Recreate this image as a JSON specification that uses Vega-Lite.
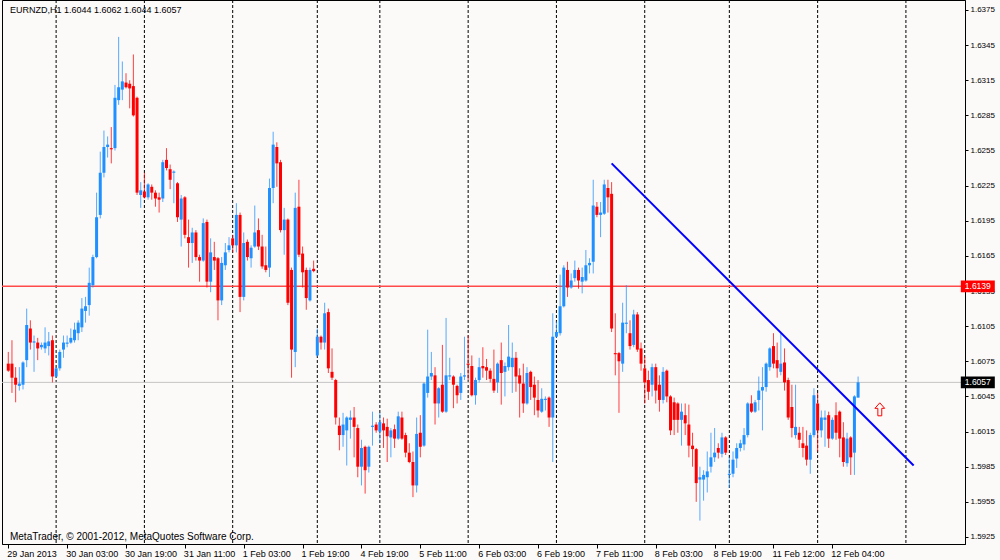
{
"$schema": "https://vega.github.io/schema/vega-lite/v6.json",
"width": 963, "height": 544,
"autosize": {"type": "none"},
"padding": {"left": 2, "top": 0, "right": 35, "bottom": 16},
"background": "#fcf9f9",
"config": {"view": {"stroke": "#000000", "strokeWidth": 1}, "axis": {"grid": false, "title": null, "labelOverlap": false, "labelBound": false, "labelFlush": false}},
"datasets": {
"candles": [
{"i":0,"o":1.6073,"h":1.6083,"l":1.6066,"c":1.6067},
{"i":1,"o":1.6073,"h":1.6093,"l":1.6048,"c":1.6061},
{"i":2,"o":1.6061,"h":1.6070,"l":1.6040,"c":1.6055},
{"i":3,"o":1.6054,"h":1.6070,"l":1.6050,"c":1.6056},
{"i":4,"o":1.6055,"h":1.6075,"l":1.6051,"c":1.6074},
{"i":5,"o":1.6076,"h":1.6120,"l":1.6070,"c":1.6106},
{"i":6,"o":1.6103,"h":1.6110,"l":1.6085,"c":1.6091},
{"i":7,"o":1.6091,"h":1.6097,"l":1.6066,"c":1.6092},
{"i":8,"o":1.6091,"h":1.6095,"l":1.6076,"c":1.6086},
{"i":9,"o":1.6087,"h":1.6091,"l":1.6085,"c":1.6089},
{"i":10,"o":1.6086,"h":1.6104,"l":1.6082,"c":1.6091},
{"i":11,"o":1.6088,"h":1.6100,"l":1.6080,"c":1.6092},
{"i":12,"o":1.6093,"h":1.6097,"l":1.6057,"c":1.6062},
{"i":13,"o":1.6062,"h":1.6070,"l":1.6061,"c":1.6069},
{"i":14,"o":1.6069,"h":1.6085,"l":1.6067,"c":1.6083},
{"i":15,"o":1.6085,"h":1.6097,"l":1.6078,"c":1.6091},
{"i":16,"o":1.6090,"h":1.6097,"l":1.6087,"c":1.6091},
{"i":17,"o":1.6091,"h":1.6103,"l":1.6090,"c":1.6095},
{"i":18,"o":1.6093,"h":1.6108,"l":1.6091,"c":1.6102},
{"i":19,"o":1.6099,"h":1.6110,"l":1.6093,"c":1.6108},
{"i":20,"o":1.6104,"h":1.6129,"l":1.6100,"c":1.6120},
{"i":21,"o":1.6118,"h":1.6130,"l":1.6108,"c":1.6122},
{"i":22,"o":1.6123,"h":1.6155,"l":1.6114,"c":1.6142},
{"i":23,"o":1.6140,"h":1.6166,"l":1.6138,"c":1.6164},
{"i":24,"o":1.6164,"h":1.6219,"l":1.6163,"c":1.6198},
{"i":25,"o":1.6200,"h":1.6254,"l":1.6197,"c":1.6236},
{"i":26,"o":1.6236,"h":1.6272,"l":1.6232,"c":1.6258},
{"i":27,"o":1.6258,"h":1.6267,"l":1.6249,"c":1.6260},
{"i":28,"o":1.6257,"h":1.6275,"l":1.6244,"c":1.6256},
{"i":29,"o":1.6257,"h":1.6311,"l":1.6255,"c":1.6300},
{"i":30,"o":1.6298,"h":1.6352,"l":1.6294,"c":1.6309},
{"i":31,"o":1.6307,"h":1.6331,"l":1.6298,"c":1.6314},
{"i":32,"o":1.6313,"h":1.6321,"l":1.6308,"c":1.6309},
{"i":33,"o":1.6312,"h":1.6315,"l":1.6291,"c":1.6308},
{"i":34,"o":1.6310,"h":1.6337,"l":1.6284,"c":1.6285},
{"i":35,"o":1.6300,"h":1.6301,"l":1.6217,"c":1.6219},
{"i":36,"o":1.6217,"h":1.6228,"l":1.6206,"c":1.6221},
{"i":37,"o":1.6220,"h":1.6236,"l":1.6214,"c":1.6215},
{"i":38,"o":1.6215,"h":1.6227,"l":1.6213,"c":1.6226},
{"i":39,"o":1.6224,"h":1.6226,"l":1.6213,"c":1.6219},
{"i":40,"o":1.6219,"h":1.6221,"l":1.6207,"c":1.6214},
{"i":41,"o":1.6215,"h":1.6219,"l":1.6202,"c":1.6213},
{"i":42,"o":1.6214,"h":1.6247,"l":1.6211,"c":1.6245},
{"i":43,"o":1.6247,"h":1.6257,"l":1.6238,"c":1.6240},
{"i":44,"o":1.6239,"h":1.6243,"l":1.6222,"c":1.6230},
{"i":45,"o":1.6236,"h":1.6238,"l":1.6210,"c":1.6237},
{"i":46,"o":1.6227,"h":1.6228,"l":1.6194,"c":1.6198},
{"i":47,"o":1.6196,"h":1.6217,"l":1.6173,"c":1.6214},
{"i":48,"o":1.6215,"h":1.6216,"l":1.6180,"c":1.6183},
{"i":49,"o":1.6181,"h":1.6196,"l":1.6155,"c":1.6176},
{"i":50,"o":1.6176,"h":1.6189,"l":1.6159,"c":1.6185},
{"i":51,"o":1.6185,"h":1.6187,"l":1.6161,"c":1.6164},
{"i":52,"o":1.6164,"h":1.6166,"l":1.6143,"c":1.6161},
{"i":53,"o":1.6161,"h":1.6197,"l":1.6160,"c":1.6193},
{"i":54,"o":1.6194,"h":1.6196,"l":1.6138,"c":1.6143},
{"i":55,"o":1.6143,"h":1.6180,"l":1.6134,"c":1.6168},
{"i":56,"o":1.6164,"h":1.6177,"l":1.6153,"c":1.6161},
{"i":57,"o":1.6163,"h":1.6164,"l":1.6110,"c":1.6127},
{"i":58,"o":1.6127,"h":1.6164,"l":1.6123,"c":1.6159},
{"i":59,"o":1.6157,"h":1.6176,"l":1.6153,"c":1.6168},
{"i":60,"o":1.6170,"h":1.6181,"l":1.6168,"c":1.6174},
{"i":61,"o":1.6180,"h":1.6183,"l":1.6168,"c":1.6174},
{"i":62,"o":1.6174,"h":1.6210,"l":1.6168,"c":1.6200},
{"i":63,"o":1.6200,"h":1.6202,"l":1.6117,"c":1.6130},
{"i":64,"o":1.6130,"h":1.6185,"l":1.6127,"c":1.6176},
{"i":65,"o":1.6177,"h":1.6179,"l":1.6161,"c":1.6164},
{"i":66,"o":1.6163,"h":1.6174,"l":1.6155,"c":1.6172},
{"i":67,"o":1.6173,"h":1.6208,"l":1.6172,"c":1.6185},
{"i":68,"o":1.6187,"h":1.6197,"l":1.6170,"c":1.6173},
{"i":69,"o":1.6173,"h":1.6183,"l":1.6154,"c":1.6156},
{"i":70,"o":1.6157,"h":1.6173,"l":1.6151,"c":1.6153},
{"i":71,"o":1.6155,"h":1.6231,"l":1.6147,"c":1.6223},
{"i":72,"o":1.6223,"h":1.6271,"l":1.6210,"c":1.6260},
{"i":73,"o":1.6258,"h":1.6262,"l":1.6224,"c":1.6244},
{"i":74,"o":1.6245,"h":1.6247,"l":1.6185,"c":1.6187},
{"i":75,"o":1.6187,"h":1.6206,"l":1.6166,"c":1.6196},
{"i":76,"o":1.6196,"h":1.6197,"l":1.6123,"c":1.6125},
{"i":77,"o":1.6153,"h":1.6155,"l":1.6061,"c":1.6085},
{"i":78,"o":1.6083,"h":1.6219,"l":1.6070,"c":1.6206},
{"i":79,"o":1.6207,"h":1.6230,"l":1.6164,"c":1.6166},
{"i":80,"o":1.6167,"h":1.6173,"l":1.6138,"c":1.6151},
{"i":81,"o":1.6153,"h":1.6155,"l":1.6119,"c":1.6129},
{"i":82,"o":1.6127,"h":1.6155,"l":1.6126,"c":1.6153},
{"i":83,"o":1.6154,"h":1.6161,"l":1.6151,"c":1.6152},
{"i":84,"o":1.6080,"h":1.6103,"l":1.6079,"c":1.6096},
{"i":85,"o":1.6096,"h":1.6097,"l":1.6085,"c":1.6091},
{"i":86,"o":1.6091,"h":1.6125,"l":1.6085,"c":1.6116},
{"i":87,"o":1.6117,"h":1.6120,"l":1.6065,"c":1.6069},
{"i":88,"o":1.6066,"h":1.6086,"l":1.6059,"c":1.6061},
{"i":89,"o":1.6059,"h":1.6060,"l":1.6021,"c":1.6027},
{"i":90,"o":1.6020,"h":1.6027,"l":1.5999,"c":1.6012},
{"i":91,"o":1.6012,"h":1.6031,"l":1.6002,"c":1.6021},
{"i":92,"o":1.6016,"h":1.6028,"l":1.5986,"c":1.6027},
{"i":93,"o":1.6025,"h":1.6033,"l":1.6009,"c":1.6027},
{"i":94,"o":1.6027,"h":1.6036,"l":1.5993,"c":1.6019},
{"i":95,"o":1.6018,"h":1.6021,"l":1.5976,"c":1.5985},
{"i":96,"o":1.5985,"h":1.6008,"l":1.5969,"c":1.6001},
{"i":97,"o":1.6002,"h":1.6003,"l":1.5962,"c":1.5982},
{"i":98,"o":1.5985,"h":1.6003,"l":1.5980,"c":1.6002},
{"i":99,"o":1.6019,"h":1.6032,"l":1.6003,"c":1.6020},
{"i":100,"o":1.6021,"h":1.6023,"l":1.6014,"c":1.6016},
{"i":101,"o":1.6015,"h":1.6031,"l":1.6005,"c":1.6023},
{"i":102,"o":1.6022,"h":1.6027,"l":1.6001,"c":1.6016},
{"i":103,"o":1.6019,"h":1.6026,"l":1.5989,"c":1.6011},
{"i":104,"o":1.6010,"h":1.6018,"l":1.5993,"c":1.6016},
{"i":105,"o":1.6017,"h":1.6021,"l":1.6001,"c":1.6009},
{"i":106,"o":1.6009,"h":1.6032,"l":1.6008,"c":1.6028},
{"i":107,"o":1.6027,"h":1.6032,"l":1.6008,"c":1.6009},
{"i":108,"o":1.6012,"h":1.6014,"l":1.5993,"c":1.5997},
{"i":109,"o":1.5997,"h":1.6005,"l":1.5988,"c":1.5989},
{"i":110,"o":1.5989,"h":1.5998,"l":1.5959,"c":1.5969},
{"i":111,"o":1.5969,"h":1.6027,"l":1.5963,"c":1.6013},
{"i":112,"o":1.6014,"h":1.6029,"l":1.5993,"c":1.6002},
{"i":113,"o":1.6003,"h":1.6057,"l":1.6002,"c":1.6056},
{"i":114,"o":1.6048,"h":1.6102,"l":1.6044,"c":1.6062},
{"i":115,"o":1.6062,"h":1.6083,"l":1.6059,"c":1.6065},
{"i":116,"o":1.6063,"h":1.6070,"l":1.6021,"c":1.6039},
{"i":117,"o":1.6039,"h":1.6053,"l":1.6027,"c":1.6052},
{"i":118,"o":1.6055,"h":1.6089,"l":1.6031,"c":1.6032},
{"i":119,"o":1.6032,"h":1.6112,"l":1.6031,"c":1.6063},
{"i":120,"o":1.6062,"h":1.6078,"l":1.6059,"c":1.6063},
{"i":121,"o":1.6062,"h":1.6063,"l":1.6035,"c":1.6055},
{"i":122,"o":1.6054,"h":1.6055,"l":1.6039,"c":1.6046},
{"i":123,"o":1.6048,"h":1.6065,"l":1.6042,"c":1.6062},
{"i":124,"o":1.6062,"h":1.6096,"l":1.6059,"c":1.6063},
{"i":125,"o":1.6073,"h":1.6097,"l":1.6059,"c":1.6072},
{"i":126,"o":1.6071,"h":1.6080,"l":1.6045,"c":1.6046},
{"i":127,"o":1.6046,"h":1.6061,"l":1.6038,"c":1.6059},
{"i":128,"o":1.6059,"h":1.6078,"l":1.6057,"c":1.6070},
{"i":129,"o":1.6071,"h":1.6087,"l":1.6061,"c":1.6069},
{"i":130,"o":1.6070,"h":1.6077,"l":1.6059,"c":1.6067},
{"i":131,"o":1.6067,"h":1.6069,"l":1.6057,"c":1.6060},
{"i":132,"o":1.6060,"h":1.6085,"l":1.6048,"c":1.6050},
{"i":133,"o":1.6057,"h":1.6074,"l":1.6048,"c":1.6073},
{"i":134,"o":1.6076,"h":1.6091,"l":1.6038,"c":1.6065},
{"i":135,"o":1.6066,"h":1.6074,"l":1.6045,"c":1.6071},
{"i":136,"o":1.6070,"h":1.6106,"l":1.6067,"c":1.6079},
{"i":137,"o":1.6070,"h":1.6091,"l":1.6048,"c":1.6078},
{"i":138,"o":1.6078,"h":1.6083,"l":1.6049,"c":1.6062},
{"i":139,"o":1.6063,"h":1.6069,"l":1.6027,"c":1.6056},
{"i":140,"o":1.6056,"h":1.6073,"l":1.6031,"c":1.6039},
{"i":141,"o":1.6039,"h":1.6070,"l":1.6038,"c":1.6065},
{"i":142,"o":1.6066,"h":1.6067,"l":1.6042,"c":1.6053},
{"i":143,"o":1.6055,"h":1.6062,"l":1.6029,"c":1.6044},
{"i":144,"o":1.6042,"h":1.6059,"l":1.6027,"c":1.6033},
{"i":145,"o":1.6032,"h":1.6052,"l":1.6031,"c":1.6043},
{"i":146,"o":1.6042,"h":1.6045,"l":1.6033,"c":1.6043},
{"i":147,"o":1.6044,"h":1.6045,"l":1.6019,"c":1.6027},
{"i":148,"o":1.6027,"h":1.6116,"l":1.5989,"c":1.6096},
{"i":149,"o":1.6096,"h":1.6109,"l":1.6095,"c":1.6100},
{"i":150,"o":1.6099,"h":1.6149,"l":1.6097,"c":1.6122},
{"i":151,"o":1.6122,"h":1.6157,"l":1.6121,"c":1.6155},
{"i":152,"o":1.6153,"h":1.6160,"l":1.6130,"c":1.6138},
{"i":153,"o":1.6138,"h":1.6150,"l":1.6137,"c":1.6144},
{"i":154,"o":1.6146,"h":1.6161,"l":1.6143,"c":1.6153},
{"i":155,"o":1.6153,"h":1.6155,"l":1.6137,"c":1.6144},
{"i":156,"o":1.6143,"h":1.6155,"l":1.6133,"c":1.6147},
{"i":157,"o":1.6144,"h":1.6170,"l":1.6143,"c":1.6157},
{"i":158,"o":1.6157,"h":1.6163,"l":1.6150,"c":1.6159},
{"i":159,"o":1.6160,"h":1.6230,"l":1.6150,"c":1.6208},
{"i":160,"o":1.6207,"h":1.6211,"l":1.6198,"c":1.6200},
{"i":161,"o":1.6200,"h":1.6211,"l":1.6181,"c":1.6202},
{"i":162,"o":1.6201,"h":1.6230,"l":1.6200,"c":1.6226},
{"i":163,"o":1.6223,"h":1.6230,"l":1.6202,"c":1.6215},
{"i":164,"o":1.6218,"h":1.6228,"l":1.6100,"c":1.6103},
{"i":165,"o":1.6082,"h":1.6116,"l":1.6063,"c":1.6081},
{"i":166,"o":1.6082,"h":1.6083,"l":1.6031,"c":1.6075},
{"i":167,"o":1.6073,"h":1.6125,"l":1.6066,"c":1.6108},
{"i":168,"o":1.6107,"h":1.6140,"l":1.6099,"c":1.6108},
{"i":169,"o":1.6099,"h":1.6110,"l":1.6085,"c":1.6088},
{"i":170,"o":1.6089,"h":1.6119,"l":1.6087,"c":1.6115},
{"i":171,"o":1.6115,"h":1.6117,"l":1.6083,"c":1.6085},
{"i":172,"o":1.6086,"h":1.6091,"l":1.6067,"c":1.6073},
{"i":173,"o":1.6069,"h":1.6079,"l":1.6039,"c":1.6057},
{"i":174,"o":1.6059,"h":1.6067,"l":1.6042,"c":1.6049},
{"i":175,"o":1.6055,"h":1.6073,"l":1.6045,"c":1.6070},
{"i":176,"o":1.6070,"h":1.6073,"l":1.6039,"c":1.6050},
{"i":177,"o":1.6055,"h":1.6063,"l":1.6032,"c":1.6042},
{"i":178,"o":1.6042,"h":1.6070,"l":1.6039,"c":1.6066},
{"i":179,"o":1.6067,"h":1.6068,"l":1.6040,"c":1.6045},
{"i":180,"o":1.6045,"h":1.6046,"l":1.6012,"c":1.6016},
{"i":181,"o":1.6040,"h":1.6044,"l":1.6012,"c":1.6025},
{"i":182,"o":1.6039,"h":1.6040,"l":1.6014,"c":1.6025},
{"i":183,"o":1.6025,"h":1.6039,"l":1.6003,"c":1.6032},
{"i":184,"o":1.6029,"h":1.6039,"l":1.6012,"c":1.6022},
{"i":185,"o":1.6021,"h":1.6038,"l":1.5993,"c":1.6003},
{"i":186,"o":1.6003,"h":1.6014,"l":1.5985,"c":1.6000},
{"i":187,"o":1.6000,"h":1.6001,"l":1.5955,"c":1.5971},
{"i":188,"o":1.5974,"h":1.5985,"l":1.5939,"c":1.5976},
{"i":189,"o":1.5974,"h":1.5982,"l":1.5956,"c":1.5978},
{"i":190,"o":1.5976,"h":1.5998,"l":1.5963,"c":1.5981},
{"i":191,"o":1.5985,"h":1.6014,"l":1.5980,"c":1.5993},
{"i":192,"o":1.5993,"h":1.6018,"l":1.5989,"c":1.5997},
{"i":193,"o":1.6001,"h":1.6005,"l":1.5992,"c":1.5997},
{"i":194,"o":1.5996,"h":1.6014,"l":1.5993,"c":1.6010},
{"i":195,"o":1.6010,"h":1.6011,"l":1.5995,"c":1.5997},
{"i":196,"o":1.5978,"h":1.5993,"l":1.5967,"c":1.5979},
{"i":197,"o":1.5979,"h":1.5998,"l":1.5976,"c":1.5991},
{"i":198,"o":1.5992,"h":1.6005,"l":1.5984,"c":1.6001},
{"i":199,"o":1.6001,"h":1.6008,"l":1.5998,"c":1.6005},
{"i":200,"o":1.6004,"h":1.6018,"l":1.5999,"c":1.6012},
{"i":201,"o":1.6012,"h":1.6040,"l":1.6010,"c":1.6039},
{"i":202,"o":1.6039,"h":1.6046,"l":1.6031,"c":1.6032},
{"i":203,"o":1.6032,"h":1.6042,"l":1.6031,"c":1.6040},
{"i":204,"o":1.6042,"h":1.6062,"l":1.6033,"c":1.6050},
{"i":205,"o":1.6050,"h":1.6070,"l":1.6016,"c":1.6053},
{"i":206,"o":1.6053,"h":1.6074,"l":1.6049,"c":1.6073},
{"i":207,"o":1.6070,"h":1.6087,"l":1.6067,"c":1.6086},
{"i":208,"o":1.6088,"h":1.6099,"l":1.6069,"c":1.6073},
{"i":209,"o":1.6076,"h":1.6091,"l":1.6061,"c":1.6069},
{"i":210,"o":1.6066,"h":1.6099,"l":1.6063,"c":1.6073},
{"i":211,"o":1.6074,"h":1.6086,"l":1.6050,"c":1.6057},
{"i":212,"o":1.6059,"h":1.6061,"l":1.6025,"c":1.6027},
{"i":213,"o":1.6036,"h":1.6055,"l":1.6010,"c":1.6018},
{"i":214,"o":1.6012,"h":1.6055,"l":1.6009,"c":1.6019},
{"i":215,"o":1.6014,"h":1.6019,"l":1.6001,"c":1.6008},
{"i":216,"o":1.6005,"h":1.6019,"l":1.5993,"c":1.6001},
{"i":217,"o":1.6003,"h":1.6016,"l":1.5986,"c":1.5991},
{"i":218,"o":1.5991,"h":1.6014,"l":1.5979,"c":1.6012},
{"i":219,"o":1.6012,"h":1.6052,"l":1.6010,"c":1.6046},
{"i":220,"o":1.6039,"h":1.6048,"l":1.5998,"c":1.6016},
{"i":221,"o":1.6016,"h":1.6033,"l":1.6010,"c":1.6027},
{"i":222,"o":1.6025,"h":1.6033,"l":1.6002,"c":1.6027},
{"i":223,"o":1.6029,"h":1.6032,"l":1.6001,"c":1.6009},
{"i":224,"o":1.6009,"h":1.6027,"l":1.6008,"c":1.6025},
{"i":225,"o":1.6029,"h":1.6040,"l":1.6008,"c":1.6014},
{"i":226,"o":1.6032,"h":1.6033,"l":1.5993,"c":1.6009},
{"i":227,"o":1.6010,"h":1.6023,"l":1.5985,"c":1.5989},
{"i":228,"o":1.5988,"h":1.6014,"l":1.5985,"c":1.6009},
{"i":229,"o":1.6010,"h":1.6011,"l":1.5978,"c":1.5993},
{"i":230,"o":1.5997,"h":1.6046,"l":1.5978,"c":1.6045},
{"i":231,"o":1.6044,"h":1.6062,"l":1.6044,"c":1.6057}
],
"seps": [{"s":13},{"s":37},{"s":61},{"s":84},{"s":101},{"s":125},{"s":149},{"s":173},{"s":196},{"s":220},{"s":244}],
"trend": [{"i":164.0,"p":1.6244},{"i":246.1,"p":1.5986}],
"levels": [{"p":1.6139,"label":"1.6139","kind":"bid"},{"p":1.6057,"label":"1.6057","kind":"last"}],
"arrow": [{"i":236.9,"p":1.6034}],
"texts": [{"t":"EURNZD,H1  1.6044 1.6062 1.6044 1.6057"}],
"credits": [{"t":"MetaTrader, © 2001-2012, MetaQuotes Software Corp."}]
},
"layer": [
{
"data": {"name": "seps"},
"mark": {"type": "rule", "color": "#000000", "strokeWidth": 1, "strokeDash": [3, 2]},
"encoding": {
"x": {"field": "s", "type": "quantitative", "title": null,
"scale": {"domain": [-0.35, 258.7], "nice": false, "zero": false},
"axis": {"orient": "bottom", "title": null, "grid": false, "tickCount": 40,
"values": [0,16,32,48,64,80,96,112,128,144,160,176,192,208,224],
"labelExpr": "['29 Jan 2013','30 Jan 03:00','30 Jan 19:00','31 Jan 11:00','1 Feb 03:00','1 Feb 19:00','4 Feb 19:00','5 Feb 11:00','6 Feb 03:00','6 Feb 19:00','7 Feb 11:00','8 Feb 03:00','8 Feb 19:00','11 Feb 12:00','12 Feb 04:00'][round(datum.value/16)]",
"domainColor": "#000000", "domainWidth": 1, "tickColor": "#000000", "tickSize": 4, "tickWidth": 1,
"labelAlign": "left", "labelOffset": -1.5, "labelPadding": 1, "labelFont": "Liberation Sans", "labelFontSize": 9,
"labelColor": "#000000", "labelOverlap": false, "labelFlush": false, "labelBound": false}}
}
},
{
"data": {"name": "levels"},
"transform": [{"filter": "datum.kind == 'bid'"}],
"mark": {"type": "rule", "color": "#ff4a4a", "strokeWidth": 1.5},
"encoding": {
"y": {"field": "p", "type": "quantitative", "title": null, "scale": {"domain": [1.5919, 1.63835], "nice": false, "zero": false},
"axis": {"orient": "right", "title": null, "grid": false, "format": ".4f", "tickCount": 40,
"values": [1.5925,1.5955,1.5985,1.6015,1.6045,1.6075,1.6105,1.6135,1.6165,1.6195,1.6225,1.6255,1.6285,1.6315,1.6345,1.6375],
"domainColor": "#000000", "domainWidth": 1, "tickColor": "#000000", "tickSize": 3,
"labelPadding": 2, "labelFont": "Liberation Sans", "labelFontSize": 8, "labelColor": "#000000",
"labelOverlap": false, "labelFlush": false, "labelBound": false}}
}
},
{
"data": {"name": "levels"},
"transform": [{"filter": "datum.kind == 'last'"}],
"mark": {"type": "rule", "color": "#c4c4c4", "strokeWidth": 1},
"encoding": {
"y": {"field": "p", "type": "quantitative", "title": null, "scale": {"domain": [1.5919, 1.63835], "nice": false, "zero": false}}
}
},
{
"data": {"name": "candles"},
"mark": {"type": "rule", "strokeWidth": 1, "opacity": 0.75},
"encoding": {
"x": {"field": "i", "type": "quantitative", "title": null, "scale": {"domain": [-0.35, 258.7], "nice": false, "zero": false}},
"y": {"field": "l", "type": "quantitative", "title": null, "scale": {"domain": [1.5919, 1.63835], "nice": false, "zero": false}},
"y2": {"field": "h"},
"color": {"condition": {"test": "datum.c >= datum.o", "value": "#1e90ff"}, "value": "#ff0000"}
}
},
{
"data": {"name": "candles"},
"mark": {"type": "bar", "width": 3},
"encoding": {
"x": {"field": "i", "type": "quantitative", "title": null, "scale": {"domain": [-0.35, 258.7], "nice": false, "zero": false}},
"y": {"field": "o", "type": "quantitative", "title": null, "scale": {"domain": [1.5919, 1.63835], "nice": false, "zero": false}},
"y2": {"field": "c"},
"color": {"condition": {"test": "datum.c >= datum.o", "value": "#1e90ff"}, "value": "#ff0000"}
}
},
{
"data": {"name": "trend"},
"mark": {"type": "line", "color": "#0000ff", "strokeWidth": 2},
"encoding": {
"x": {"field": "i", "type": "quantitative", "title": null, "scale": {"domain": [-0.35, 258.7], "nice": false, "zero": false}},
"y": {"field": "p", "type": "quantitative", "title": null, "scale": {"domain": [1.5919, 1.63835], "nice": false, "zero": false}}
}
},
{
"data": {"name": "arrow"},
"mark": {"type": "point", "shape": "M0,-1L0.75,-0.15L0.3,-0.15L0.3,1L-0.3,1L-0.3,-0.15L-0.75,-0.15Z", "filled": false, "color": "#ff0000", "strokeWidth": 1, "size": 169, "opacity": 1},
"encoding": {
"x": {"field": "i", "type": "quantitative", "title": null, "scale": {"domain": [-0.35, 258.7], "nice": false, "zero": false}},
"y": {"field": "p", "type": "quantitative", "title": null, "scale": {"domain": [1.5919, 1.63835], "nice": false, "zero": false}}
}
},
{
"data": {"name": "levels"},
"mark": {"type": "point", "shape": "M-1,-0.35L1,-0.35L1,0.35L-1,0.35Z", "filled": true, "size": 1156, "strokeWidth": 0, "opacity": 1},
"encoding": {
"x": {"datum": 263.54, "type": "quantitative", "title": null, "scale": {"domain": [-0.35, 258.7], "nice": false, "zero": false}},
"y": {"field": "p", "type": "quantitative", "title": null, "scale": {"domain": [1.5919, 1.63835], "nice": false, "zero": false}},
"color": {"condition": {"test": "datum.kind == 'bid'", "value": "#ff0000"}, "value": "#000000"}
}
},
{
"data": {"name": "levels"},
"mark": {"type": "text", "color": "#ffffff", "font": "Liberation Sans", "fontSize": 8.5, "align": "center", "baseline": "middle"},
"encoding": {
"x": {"datum": 263.54, "type": "quantitative", "title": null, "scale": {"domain": [-0.35, 258.7], "nice": false, "zero": false}},
"y": {"field": "p", "type": "quantitative", "title": null, "scale": {"domain": [1.5919, 1.63835], "nice": false, "zero": false}},
"text": {"field": "label"}
}
},
{
"data": {"name": "texts"},
"mark": {"type": "text", "color": "#000000", "font": "Liberation Sans", "fontSize": 9, "align": "left", "baseline": "alphabetic"},
"encoding": {
"x": {"datum": 0.457, "type": "quantitative", "title": null, "scale": {"domain": [-0.35, 258.7], "nice": false, "zero": false}},
"y": {"datum": 1.63724, "type": "quantitative", "title": null, "scale": {"domain": [1.5919, 1.63835], "nice": false, "zero": false}},
"text": {"field": "t"}
}
},
{
"data": {"name": "credits"},
"mark": {"type": "text", "color": "#000000", "font": "Liberation Sans", "fontSize": 10, "align": "left", "baseline": "alphabetic"},
"encoding": {
"x": {"datum": 0.457, "type": "quantitative", "title": null, "scale": {"domain": [-0.35, 258.7], "nice": false, "zero": false}},
"y": {"datum": 1.59224, "type": "quantitative", "title": null, "scale": {"domain": [1.5919, 1.63835], "nice": false, "zero": false}},
"text": {"field": "t"}
}
}
]
}
